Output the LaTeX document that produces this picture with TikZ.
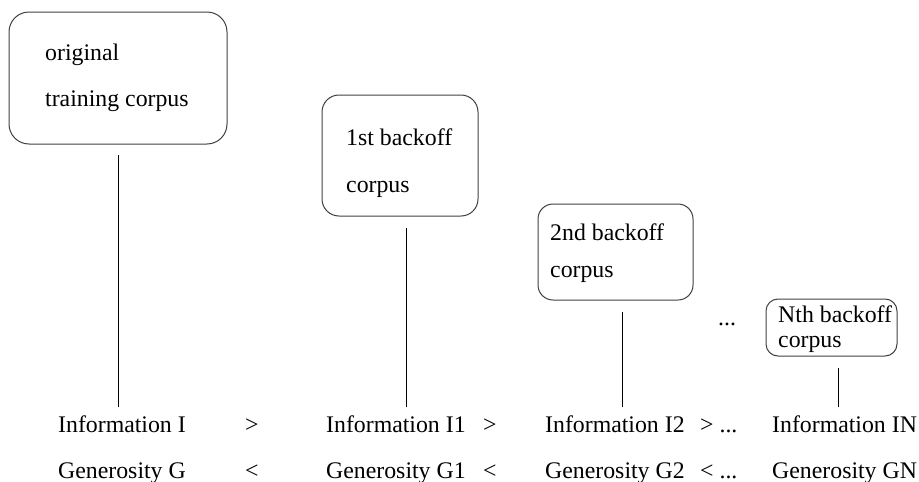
\documentclass[tikz,border=0pt]{standalone}
\usepackage{fontspec}
\setmainfont{Liberation Serif}
\begin{document}
\begin{tikzpicture}[x=1pt,y=-1pt,
  box/.style={draw=black!75,line width=1pt,inner sep=0pt},
  lbl/.style={anchor=base west,inner sep=0pt,font=\fontsize{23.8}{28}\selectfont},
  conn/.style={draw=black,line width=0.9pt}]
\useasboundingbox (0,0) rectangle (919,482);
% boxes
\node[box,rounded corners=20pt,minimum width=218pt,minimum height=132pt] (b1) at (118,78) {};
\node[box,rounded corners=17pt,minimum width=156pt,minimum height=121pt] (b2) at (400,155.5) {};
\node[box,rounded corners=15pt,minimum width=155pt,minimum height=96pt] (b3) at (615.5,252) {};
\node[box,rounded corners=12pt,minimum width=131pt,minimum height=57pt] (b4) at (831.5,327.5) {};
% box texts
\node[lbl] (t1a) at (45,60) {original};
\node[lbl] (t1b) at (45,106) {training corpus};
\node[lbl] (t2a) at (346,145) {1st backoff};
\node[lbl] (t2b) at (346,192) {corpus};
\node[lbl] (t3a) at (550,240) {2nd backoff};
\node[lbl] (t3b) at (550,277) {corpus};
\node[lbl] (t4a) at (778,322) {Nth backoff};
\node[lbl] (t4b) at (778,347) {corpus};
\node[lbl] (dots) at (718,325) {...};
% bottom rows
\node[lbl] (i0) at (58,432) {Information I};
\node[lbl] (gt1) at (245,432) {>};
\node[lbl] (i1) at (326,432) {Information I1};
\node[lbl] (gt2) at (483,432) {>};
\node[lbl] (i2) at (545,432) {Information I2};
\node[lbl] (gt3) at (700,432) {> ...};
\node[lbl] (i3) at (772,432) {Information IN};
\node[lbl] (g0) at (58,478) {Generosity G};
\node[lbl] (lt1) at (245,478) {<};
\node[lbl] (g1) at (326,478) {Generosity G1};
\node[lbl] (lt2) at (483,478) {<};
\node[lbl] (g2) at (545,478) {Generosity G2};
\node[lbl] (lt3) at (700,478) {< ...};
\node[lbl] (g3) at (772,478) {Generosity GN};
% connectors
\coordinate (c1a) at (118,155); \coordinate (c1b) at (118,407);
\coordinate (c2a) at (406,228); \coordinate (c2b) at (406,407);
\coordinate (c3a) at (622,312); \coordinate (c3b) at (622,407);
\coordinate (c4a) at (838,368); \coordinate (c4b) at (838,407);
\draw[conn] (c1a) -- (c1b);
\draw[conn] (c2a) -- (c2b);
\draw[conn] (c3a) -- (c3b);
\draw[conn] (c4a) -- (c4b);
\end{tikzpicture}
\end{document}
